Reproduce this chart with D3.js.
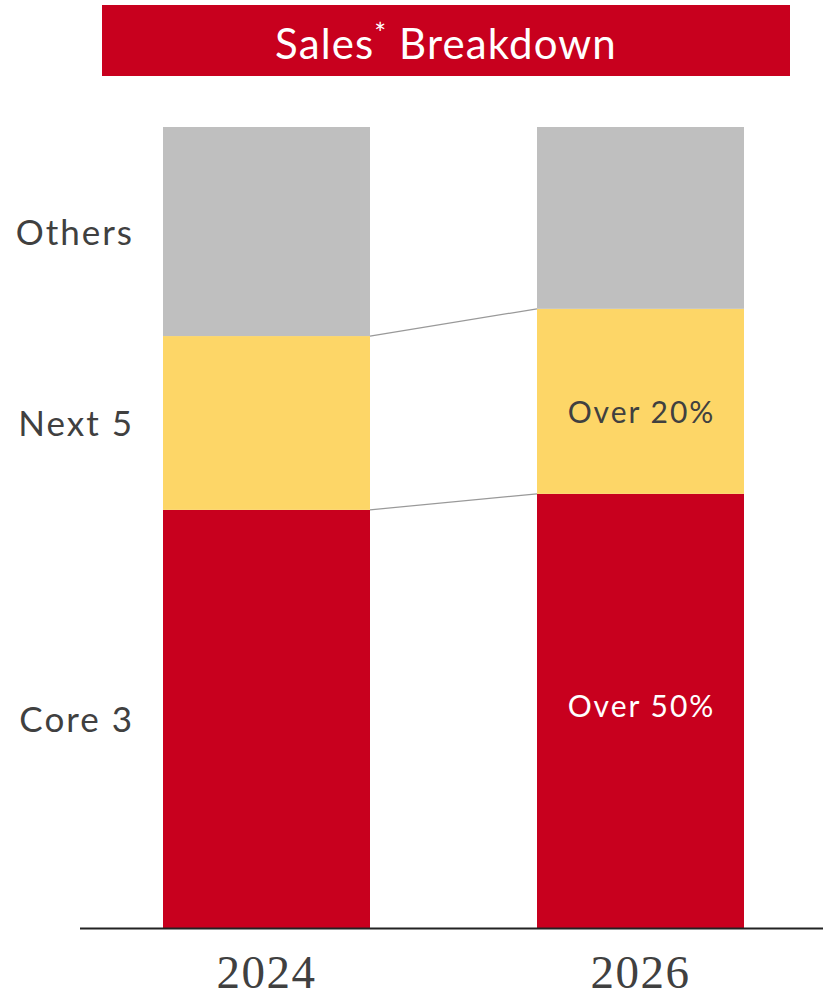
<!DOCTYPE html>
<html>
<head>
<meta charset="utf-8">
<script src="https://cdn.jsdelivr.net/npm/d3@7"></script>
<style>
  html, body { margin: 0; padding: 0; background: #fff; }
  svg { display: block; }
</style>
</head>
<body>
<svg id="chart" width="823" height="999"></svg>
<script>
// Sales share by segment (%), stacked bottom to top
const years = ["2024", "2026"];
const segments = ["Core 3", "Next 5", "Others"];
const core3 = [52.2, 54.2];
const next5 = [21.7, 23.1];
const others = [26.1, 22.7];
const barLabels = { "Core 3": [null, "Over 50%"], "Next 5": [null, "Over 20%"] };
const title = "Sales";
const titleRest = " Breakdown";

const colors = { "Core 3": "#c8001e", "Next 5": "#fdd667", "Others": "#bfbfbf" };
const labelFill = { "Core 3": "#ffffff", "Next 5": "#404040" };
const labelShift = { "Core 3": 6, "Next 5": 22 };

const svg = d3.select("#chart");
const W = 823;

const rows = years.map((y, i) => ({ year: y, "Core 3": core3[i], "Next 5": next5[i], "Others": others[i] }));
const stacked = d3.stack().keys(segments)(rows);

const barX = d3.scalePoint().domain(years).range([163, 537]);
const barW = 207;
const y = d3.scaleLinear().domain([0, 100]).range([928, 127]);

// title banner
svg.append("rect").attr("x", 102).attr("y", 5).attr("width", 688).attr("height", 71).attr("fill", "#c8001e");
const t = svg.append("text")
  .attr("x", 446).attr("y", 59)
  .attr("text-anchor", "middle")
  .attr("fill", "#fff")
  .style("font-family", "Lato, 'Open Sans', sans-serif")
  .style("font-size", "42px")
  .style("letter-spacing", "1.1px");
t.append("tspan").text(title);
t.append("tspan").text("*").attr("dy", -15).style("font-size", "28px");
t.append("tspan").text(titleRest).attr("dy", 15);

// connector lines between segment tops
["Core 3", "Next 5"].forEach(key => {
  const s = stacked.find(d => d.key === key);
  svg.append("line")
    .attr("x1", barX(years[0]) + barW).attr("y1", y(s[0][1]))
    .attr("x2", barX(years[1])).attr("y2", y(s[1][1]))
    .attr("stroke", "#999").attr("stroke-width", 1.2);
});

// stacked bars
stacked.forEach(layer => {
  svg.append("g").selectAll("rect").data(layer).join("rect")
    .attr("x", d => barX(d.data.year))
    .attr("y", d => y(d[1]))
    .attr("width", barW)
    .attr("height", d => y(d[0]) - y(d[1]))
    .attr("fill", colors[layer.key]);
});

// in-bar labels
stacked.forEach(layer => {
  const lbl = barLabels[layer.key];
  if (!lbl) return;
  layer.forEach((d, i) => {
    if (!lbl[i]) return;
    svg.append("text")
      .attr("x", barX(d.data.year) + barW / 2 + 1)
      .attr("y", (y(d[0]) + y(d[1])) / 2 + labelShift[layer.key])
      .attr("text-anchor", "middle")
      .attr("fill", labelFill[layer.key])
      .style("font-family", "Lato, 'Open Sans', sans-serif")
      .style("font-size", "30px")
      .style("letter-spacing", "2px")
      .text(lbl[i]);
  });
});

// category labels beside the first bar
stacked.forEach(layer => {
  const d = layer[0];
  svg.append("text")
    .attr("x", 134)
    .attr("y", (y(d[0]) + y(d[1])) / 2 + 13)
    .attr("text-anchor", "end")
    .attr("fill", "#404040")
    .style("font-family", "Lato, 'Open Sans', sans-serif")
    .style("font-size", "35px")
    .style("letter-spacing", "2px")
    .text(layer.key);
});

// baseline axis with year labels
const axis = svg.append("g").attr("transform", `translate(0,${y(0)})`);
axis.append("line").attr("x1", 80).attr("x2", W).attr("y1", 0.5).attr("y2", 0.5)
  .attr("stroke", "#222").attr("stroke-width", 2);
axis.selectAll("text.year").data(years).join("text")
  .attr("class", "year")
  .attr("x", d => barX(d) + barW / 2)
  .attr("y", 60)
  .attr("text-anchor", "middle")
  .attr("fill", "#404040")
  .style("font-family", "'Liberation Serif', 'Times New Roman', serif")
  .style("font-size", "47px")
  .style("letter-spacing", "1.5px")
  .text(d => d);
</script>
</body>
</html>
